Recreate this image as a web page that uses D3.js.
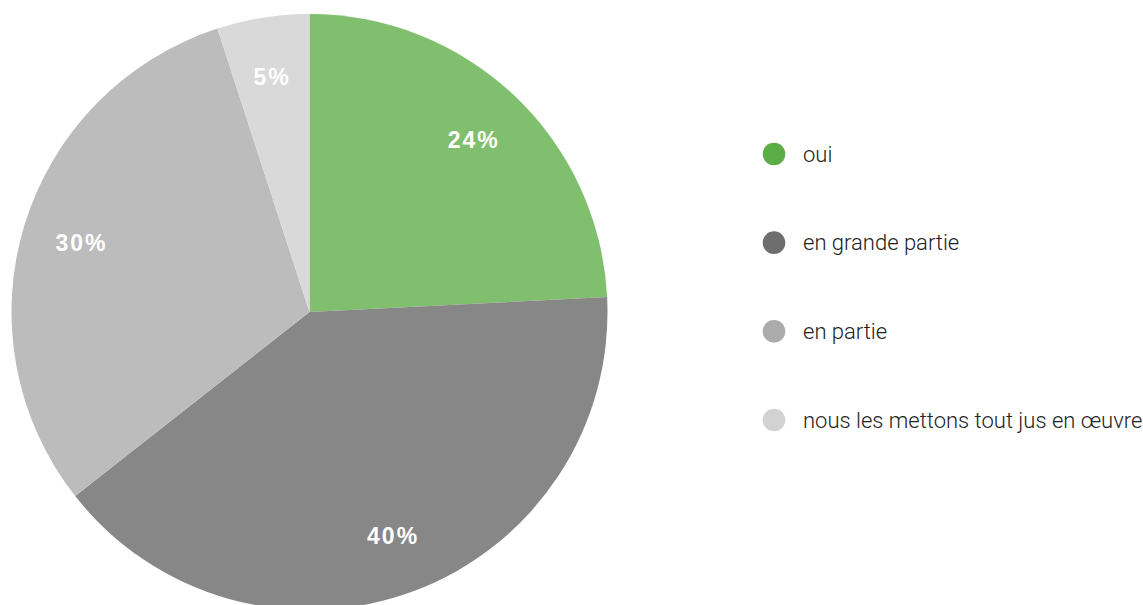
<!DOCTYPE html>
<html>
<head>
<meta charset="utf-8">
<script src="https://cdn.jsdelivr.net/npm/d3@7"></script>
<style>
  body { margin: 0; background: #fff; }
  svg { display: block; }
</style>
</head>
<body>
<div class="pie_content"></div>
<script>
// data
var categories = ["oui", "en grande partie", "en partie", "nous les mettons tout jus en œuvre"];
var values = [24.2, 40.2, 30.6, 5.0];
var pctLabels = ["24%", "40%", "30%", "5%"];
var sliceColors = ["#80bf6e", "#878787", "#bcbcbc", "#d9d9d9"];
var legendColors = ["#5bad45", "#6e6e6e", "#ababab", "#d2d2d2"];

var width = 1143, height = 605;
var cx = 309.5, cy = 312, radius = 298;

var svg = d3.select(".pie_content")
  .append("svg")
    .attr("width", width)
    .attr("height", height);

var pie = d3.pie().sort(null).value(function(d) { return d; });
var arcs = pie(values);

var arc = d3.arc().innerRadius(0).outerRadius(radius);
var labelArc = d3.arc().innerRadius(radius * 0.8).outerRadius(radius * 0.8);

var g = svg.append("g")
    .attr("transform", "translate(" + cx + "," + cy + ")");

g.selectAll(".slice")
  .data(arcs)
  .enter().append("path")
    .attr("class", "slice")
    .attr("d", arc)
    .attr("fill", function(d, i) { return sliceColors[i]; });

g.selectAll(".pct")
  .data(arcs)
  .enter().append("text")
    .attr("class", "pct")
    .attr("transform", function(d) { return "translate(" + labelArc.centroid(d) + ")"; })
    .attr("text-anchor", "middle")
    .attr("dy", "0.36em")
    .style("font-family", "'Liberation Sans', Arial, sans-serif")
    .style("font-weight", "bold")
    .style("font-size", "23px")
    .style("letter-spacing", "2px")
    .style("fill", "#fff")
    .text(function(d, i) { return pctLabels[i]; });

// legend
var legendY = d3.scalePoint()
    .domain(categories)
    .range([154, 420]);

var legend = svg.selectAll(".legend")
  .data(categories)
  .enter().append("g")
    .attr("class", "legend")
    .attr("transform", function(d) { return "translate(774," + legendY(d) + ")"; });

legend.append("circle")
    .attr("r", 11.3)
    .attr("fill", function(d, i) { return legendColors[i]; });

legend.append("text")
    .attr("x", 29)
    .attr("dominant-baseline", "central")
    .style("font-family", "Roboto, 'Liberation Sans', sans-serif")
    .style("font-weight", "300")
    .style("font-size", "22px")
    .style("fill", "#222")
    .text(function(d) { return d; });
</script>
</body>
</html>
